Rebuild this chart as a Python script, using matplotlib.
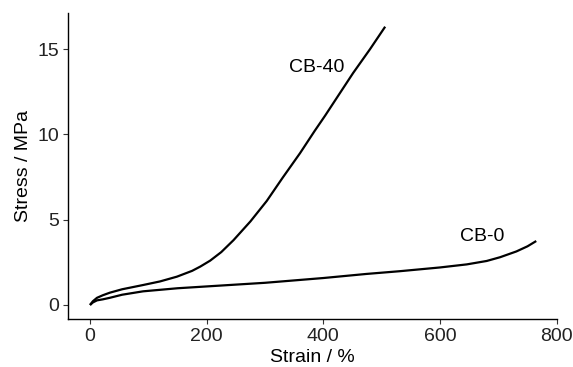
import matplotlib
matplotlib.use("Agg")
import matplotlib.pyplot as plt

# CB-40 stress-strain data
cb40_strain = [0, 5, 12, 22, 34, 55, 91, 120, 149, 175, 189, 206, 225, 246, 275, 303, 330, 360, 385, 403, 417, 451, 480, 506]
cb40_stress = [0, 0.22, 0.42, 0.57, 0.72, 0.92, 1.17, 1.38, 1.66, 2.0, 2.25, 2.6, 3.1, 3.8, 4.9, 6.1, 7.45, 8.9, 10.2, 11.1, 11.83, 13.6, 15.0, 16.32]

# CB-0 stress-strain data
cb0_strain = [0, 5, 12, 22, 34, 55, 91, 150, 206, 300, 400, 474, 531, 600, 646, 680, 703, 731, 750, 765]
cb0_stress = [0, 0.15, 0.27, 0.33, 0.42, 0.6, 0.8, 0.98, 1.1, 1.3, 1.58, 1.82, 1.98, 2.2, 2.38, 2.58, 2.8, 3.14, 3.44, 3.75]

x_ticks = [0, 200, 400, 600, 800]
y_ticks = [0, 5, 10, 15]

plt.rcParams['font.family'] = ['Liberation Sans', 'DejaVu Sans']

fig = plt.figure(figsize=(5.73, 3.67), dpi=100)
ax = fig.add_axes([0.1192, 0.130, 0.9715 - 0.1192, 0.9654 - 0.130])

ax.plot(cb40_strain, cb40_stress, color='black', lw=1.6, solid_capstyle='butt')
ax.plot(cb0_strain, cb0_stress, color='black', lw=1.6, solid_capstyle='butt')

ax.text(388, 13.9, 'CB-40', fontsize=14, ha='center', va='center', color='black')
ax.text(673, 4.0, 'CB-0', fontsize=14, ha='center', va='center', color='black')

ax.set_xlim(-37.2, 800)
ax.set_ylim(-0.84, 17.14)
ax.set_xticks(x_ticks)
ax.set_yticks(y_ticks)

for s in ['top', 'right']:
    ax.spines[s].set_visible(False)
for s in ['left', 'bottom']:
    ax.spines[s].set_linewidth(1.0)
    ax.spines[s].set_color('black')

ax.tick_params(axis='both', length=3.5, width=0.8, color='#333333', labelsize=14, labelcolor='#222222', pad=3)
ax.set_xlabel('Strain / %', fontsize=14, labelpad=3)
ax.set_ylabel('Stress / MPa', fontsize=14, labelpad=4)

fig.savefig('out.png', dpi=100)
